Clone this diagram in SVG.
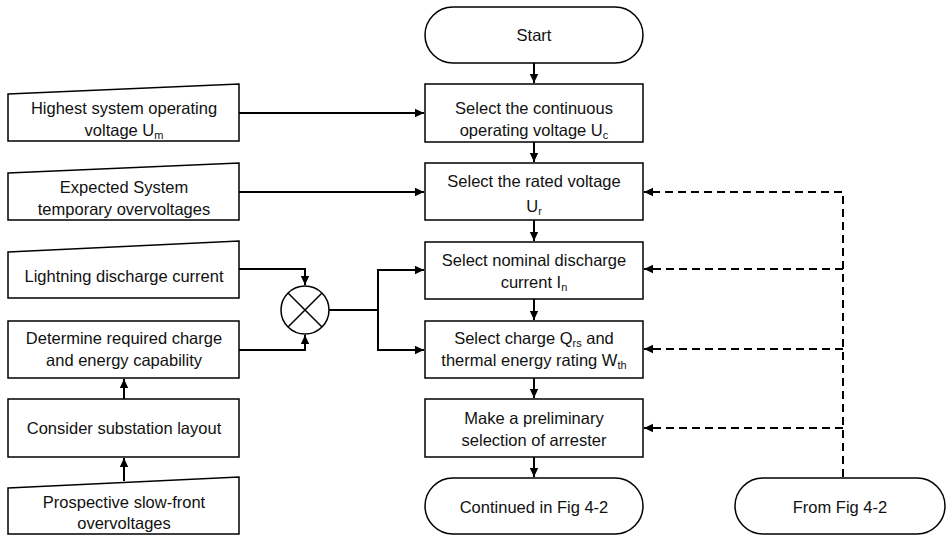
<svg xmlns="http://www.w3.org/2000/svg" width="946" height="535" viewBox="0 0 946 535">
<defs>
<marker id="ah" markerWidth="10" markerHeight="10" refX="9" refY="5" orient="auto" markerUnits="userSpaceOnUse">
<path d="M0,0.8 L9,5 L0,9.2 Z" fill="#000"/>
</marker>
<style>
.box{fill:#fff;stroke:#000;stroke-width:1.5}
.t{font-family:"Liberation Sans",Arial,sans-serif;font-size:16.5px;fill:#111;text-anchor:middle}
.sub{font-size:11px}
.c{fill:none;stroke:#000;stroke-width:2}
.d{fill:none;stroke:#000;stroke-width:2;stroke-dasharray:8,5}
</style>
</defs>
<rect width="946" height="535" fill="#fff"/>
<g id="connectors">
<path class="c" d="M534,63 V83" marker-end="url(#ah)"/>
<path class="c" d="M534,142 V162" marker-end="url(#ah)"/>
<path class="c" d="M534,220 V241" marker-end="url(#ah)"/>
<path class="c" d="M534,299 V320" marker-end="url(#ah)"/>
<path class="c" d="M534,378 V398" marker-end="url(#ah)"/>
<path class="c" d="M534,457 V477" marker-end="url(#ah)"/>
<path class="c" d="M239,113 H424" marker-end="url(#ah)"/>
<path class="c" d="M239,192 H424" marker-end="url(#ah)"/>
<path class="c" d="M239,269 H305 V285" marker-end="url(#ah)"/>
<path class="c" d="M239,350 H305 V335" marker-end="url(#ah)"/>
<path class="c" d="M329,310 H378"/>
<path class="c" d="M378,310 V270 H424" marker-end="url(#ah)"/>
<path class="c" d="M378,310 V350 H424" marker-end="url(#ah)"/>
<path class="c" d="M124,399 V379" marker-end="url(#ah)"/>
<path class="c" d="M124,481 V458" marker-end="url(#ah)"/>
<path class="d" d="M843,477 V192 H644" marker-end="url(#ah)"/>
<path class="d" d="M843,269 H644" marker-end="url(#ah)"/>
<path class="d" d="M843,349 H644" marker-end="url(#ah)"/>
<path class="d" d="M843,428 H644" marker-end="url(#ah)"/>
</g>
<g id="start">
<rect class="box" x="425" y="7" width="218" height="56" rx="28"/>
<text class="t" x="534" y="41">Start</text>
</g>
<g id="uc">
<rect class="box" x="425" y="84" width="218" height="58"/>
<text class="t" x="534" y="114">Select the continuous</text>
<text class="t" x="534" y="136">operating voltage U<tspan class="sub" dy="3">c</tspan></text>
</g>
<g id="ur">
<rect class="box" x="425" y="163" width="218" height="57"/>
<text class="t" x="534" y="187">Select the rated voltage</text>
<text class="t" x="534" y="212">U<tspan class="sub" dy="3">r</tspan></text>
</g>
<g id="in">
<rect class="box" x="425" y="242" width="218" height="57"/>
<text class="t" x="534" y="266">Select nominal discharge</text>
<text class="t" x="534" y="288">current I<tspan class="sub" dy="3">n</tspan></text>
</g>
<g id="qrs">
<rect class="box" x="425" y="321" width="218" height="57"/>
<text class="t" x="534" y="344">Select charge Q<tspan class="sub" dy="3">rs</tspan><tspan dy="-3"> and</tspan></text>
<text class="t" x="534" y="366">thermal energy rating W<tspan class="sub" dy="3">th</tspan></text>
</g>
<g id="prelim">
<rect class="box" x="425" y="399" width="218" height="58"/>
<text class="t" x="534" y="424">Make a preliminary</text>
<text class="t" x="534" y="446">selection of arrester</text>
</g>
<g id="continued">
<rect class="box" x="425" y="478" width="218" height="56" rx="28"/>
<text class="t" x="534" y="513">Continued in Fig 4-2</text>
</g>
<g id="from">
<rect class="box" x="735" y="478" width="210" height="56" rx="28"/>
<text class="t" x="840" y="513">From Fig 4-2</text>
</g>
<g id="um">
<polygon class="box" points="8,94 239,84 239,141 8,141"/>
<text class="t" x="124" y="114">Highest system operating</text>
<text class="t" x="124" y="136">voltage U<tspan class="sub" dy="3">m</tspan></text>
</g>
<g id="tov">
<polygon class="box" points="8,173 239,163 239,220 8,220"/>
<text class="t" x="124" y="193">Expected System</text>
<text class="t" x="124" y="215">temporary overvoltages</text>
</g>
<g id="lightning">
<polygon class="box" points="8,252 239,241 239,298 8,298"/>
<text class="t" x="124" y="282">Lightning discharge current</text>
</g>
<g id="determine">
<rect class="box" x="8" y="321" width="231" height="57"/>
<text class="t" x="124" y="344">Determine required charge</text>
<text class="t" x="124" y="366">and energy capability</text>
</g>
<g id="layout">
<rect class="box" x="8" y="399" width="231" height="58"/>
<text class="t" x="124" y="434">Consider substation layout</text>
</g>
<g id="slowfront">
<polygon class="box" points="8,488 239,477 239,534 8,534"/>
<text class="t" x="124" y="508">Prospective slow-front</text>
<text class="t" x="124" y="529">overvoltages</text>
</g>
<g id="junction">
<circle class="box" cx="305" cy="310" r="24"/>
<path d="M288,293 L322,327 M322,293 L288,327" stroke="#000" stroke-width="1.5"/>
</g>
</svg>
